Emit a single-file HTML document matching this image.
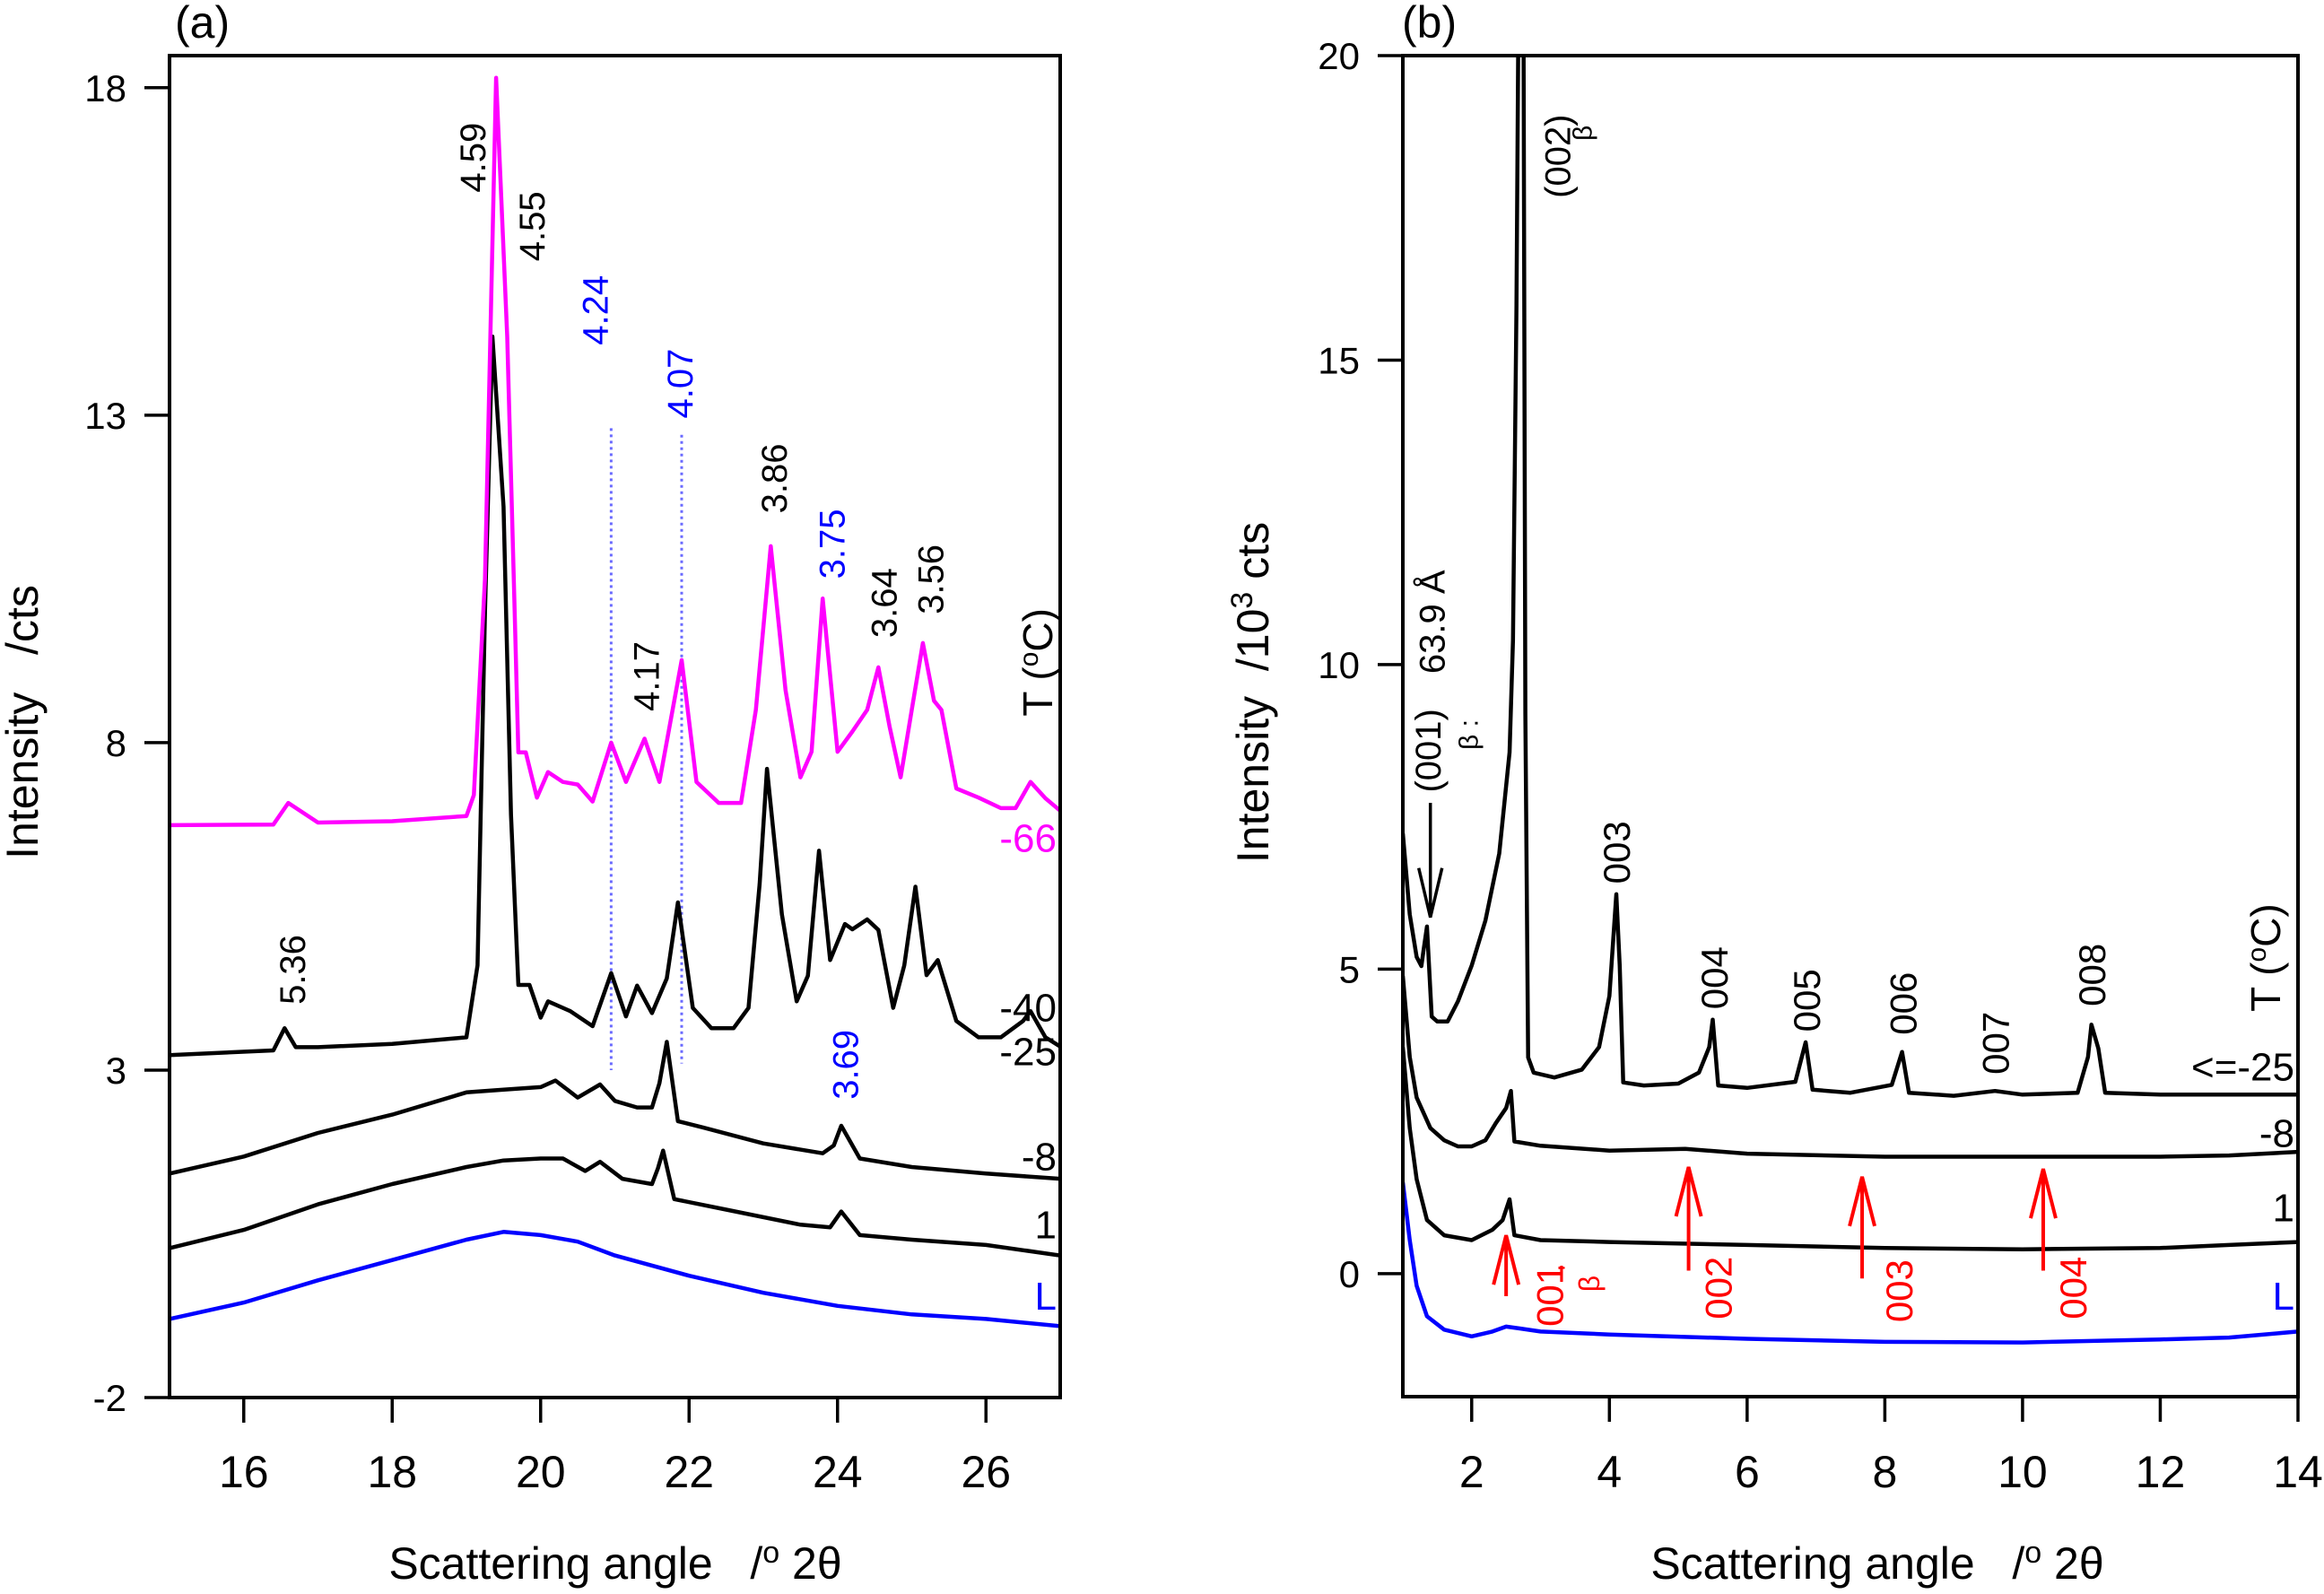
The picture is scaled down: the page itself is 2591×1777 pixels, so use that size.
<!DOCTYPE html>
<html><head><meta charset="utf-8"><style>
html,body{margin:0;padding:0;background:#fff}
svg{display:block;font-family:"Liberation Sans",Arial,sans-serif}
</style></head><body>
<svg id="fig" width="2591" height="1777" viewBox="0 0 2591 1777" xmlns="http://www.w3.org/2000/svg">
<g id="pa"></g>
<g id="pb"></g>
</svg>
<script>
// ---------- Panel (a) data ----------
const aXTicks = [16,18,20,22,24,26];
const aYTicks = [18,13,8,3,-2];
const aX66 = [15,16.4,16.6,17,18,19,19.1,19.25,19.4,19.55,19.65,19.7,19.8,19.95,20.1,20.3,20.5,20.7,20.95,21.15,21.4,21.6,21.9,22.1,22.4,22.7,22.9,23.1,23.3,23.5,23.65,23.8,24.0,24.2,24.4,24.55,24.7,24.85,25.0,25.15,25.3,25.4,25.6,25.9,26.2,26.4,26.6,26.8,27];
const aY66 = [6.74,6.75,7.08,6.78,6.8,6.88,7.2,10.5,18.15,14.2,10,7.85,7.85,7.16,7.55,7.4,7.36,7.1,8.0,7.4,8.06,7.4,9.26,7.4,7.08,7.08,8.5,11.0,8.8,7.47,7.86,10.2,7.86,8.17,8.5,9.15,8.25,7.47,8.5,9.52,8.64,8.5,7.3,7.16,7.0,7.0,7.4,7.15,6.96];
const aX40 = [15,16.4,16.55,16.7,17,18,19,19.15,19.25,19.35,19.5,19.6,19.7,19.85,20,20.1,20.4,20.7,20.95,21.15,21.3,21.5,21.7,21.85,22.05,22.3,22.6,22.8,22.95,23.05,23.25,23.45,23.6,23.75,23.9,24.1,24.2,24.4,24.55,24.75,24.9,25.05,25.2,25.35,25.6,25.9,26.2,26.5,26.6,26.8,27];
const aY40 = [3.23,3.3,3.64,3.35,3.35,3.4,3.5,4.6,10,14.2,11.6,6.9,4.3,4.3,3.8,4.05,3.9,3.67,4.48,3.82,4.29,3.87,4.4,5.56,3.95,3.64,3.64,3.95,5.84,7.6,5.38,4.05,4.44,6.35,4.68,5.23,5.15,5.3,5.14,3.95,4.6,5.8,4.45,4.68,3.75,3.5,3.5,3.75,3.9,3.5,3.36];
const aX8 = [15,16,17,18,19,19.5,20,20.2,20.5,20.8,21.0,21.3,21.5,21.6,21.7,21.85,22.2,23,23.8,23.95,24.05,24.3,25,26,27];
const aY8 = [1.42,1.68,2.04,2.32,2.66,2.7,2.74,2.84,2.58,2.78,2.53,2.43,2.43,2.8,3.43,2.22,2.12,1.88,1.73,1.85,2.15,1.65,1.52,1.42,1.34];
const aX1 = [15,16,17,18,19,19.5,20,20.3,20.6,20.8,21.1,21.5,21.58,21.65,21.8,22.5,23.5,23.9,24.05,24.3,25,26,27];
const aY1 = [0.28,0.56,0.95,1.26,1.52,1.62,1.65,1.65,1.46,1.6,1.34,1.26,1.5,1.77,1.03,0.87,0.64,0.6,0.84,0.48,0.41,0.33,0.17];
const aXL = [15,16,17,18,19,19.5,20,20.5,21,22,23,24,25,26,27];
const aYL = [-0.8,-0.55,-0.21,0.1,0.41,0.53,0.48,0.38,0.17,-0.14,-0.4,-0.6,-0.73,-0.8,-0.91];
// ---------- Panel (b) data ----------
const bXTicks = [2,4,6,8,10,12,14];
const bYTicks = [0,5,10,15,20];
const bX25 = [1.0,1.1,1.2,1.27,1.3,1.35,1.42,1.5,1.65,1.8,2.0,2.2,2.4,2.55,2.6,2.65,2.71,2.75,2.78,2.82,2.9,3.2,3.6,3.85,4.0,4.1,4.15,4.2,4.5,5.0,5.3,5.45,5.5,5.58,6,6.7,6.85,6.95,7.5,8.1,8.25,8.35,9,9.6,10,10.8,10.95,11.0,11.1,11.2,12,13,14];
const bY25 = [7.23,5.9,5.2,5.05,5.3,5.7,4.22,4.14,4.14,4.47,5.06,5.8,6.9,8.56,10.4,15.9,26,22,9.2,3.55,3.3,3.22,3.35,3.72,4.56,6.23,5.06,3.14,3.09,3.12,3.3,3.72,4.17,3.09,3.05,3.15,3.8,3.02,2.97,3.1,3.64,2.97,2.92,3.0,2.94,2.97,3.56,4.09,3.7,2.97,2.94,2.94,2.94];
const bX8 = [1.0,1.1,1.2,1.4,1.6,1.8,2.0,2.2,2.35,2.5,2.57,2.62,3,4,5.1,6,8,10,12,13,14];
const bY8 = [4.89,3.56,2.89,2.39,2.19,2.09,2.09,2.19,2.47,2.72,3.0,2.17,2.1,2.02,2.05,1.97,1.92,1.92,1.92,1.94,2.0];
const bX1 = [1.0,1.1,1.2,1.35,1.6,2.0,2.3,2.45,2.55,2.62,3,4,6,8,10,12,13,14];
const bY1 = [3.72,2.39,1.55,0.88,0.63,0.55,0.72,0.88,1.22,0.63,0.55,0.52,0.47,0.42,0.4,0.42,0.47,0.52];
const bXL = [1.0,1.1,1.2,1.35,1.6,2.0,2.3,2.5,2.7,3,4,6,8,10,12,13,14];
const bYL = [1.5,0.55,-0.2,-0.7,-0.92,-1.03,-0.95,-0.87,-0.9,-0.95,-1.0,-1.07,-1.12,-1.13,-1.08,-1.05,-0.95];
const bRedArrowX = [2.5,5.15,7.67,10.3];

const NS='http://www.w3.org/2000/svg';
function mk(tag,attrs,parent,txt){const e=document.createElementNS(NS,tag);for(const k in attrs)e.setAttribute(k,attrs[k]);if(txt!==undefined)e.textContent=txt;parent.appendChild(e);return e;}

const A={x0:189,x1:1182,y0:62,y1:1558,xmin:15,xmax:27,ymin:-2,ymax:18.49};
const B={x0:1564,x1:2562,y0:62,y1:1557,xmin:1,xmax:14,ymin:-2.02,ymax:20};
function sx(P,v){return P.x0+(v-P.xmin)/(P.xmax-P.xmin)*(P.x1-P.x0);}
function sy(P,v){return P.y1-(v-P.ymin)/(P.ymax-P.ymin)*(P.y1-P.y0);}

function drawFrame(P,g,xt,yt,name){
  const r=mk('rect',{x:P.x0,y:P.y0,width:P.x1-P.x0,height:P.y1-P.y0,fill:'none',stroke:'#000','stroke-width':4},g);
  
  
  xt.forEach(v=>{const x=sx(P,v);
    const l=mk('line',{x1:x,y1:P.y1,x2:x,y2:P.y1+28,stroke:'#000','stroke-width':3.5},g);
    
    
    const t=mk('text',{x:x,y:1658,'font-size':50,'text-anchor':'middle'},g,String(v));
    
    
  });
  yt.forEach(v=>{const y=sy(P,v);
    const l=mk('line',{x1:P.x0-28,y1:y,x2:P.x0,y2:y,stroke:'#000','stroke-width':3.5},g);
    
    
    const t=mk('text',{x:P.x0-48,y:y+15,'font-size':42,'text-anchor':'end'},g,String(v));
    
    
  });
}
function clip(P,id,g){const d=mk('clipPath',{id:id},g);mk('rect',{x:P.x0,y:P.y0,width:P.x1-P.x0,height:P.y1-P.y0},d);}
function curve(P,g,xs,ys,color,name,cid){
  const pts=xs.map((x,i)=>sx(P,x).toFixed(1)+','+sy(P,ys[i]).toFixed(1)).join(' ');
  const p=mk('polyline',{points:pts,fill:'none',stroke:color,'stroke-width':4.5,'stroke-linejoin':'round','clip-path':'url(#'+cid+')'},g);
  
  
}
function vlabel(P,g,xv,yv,txt,color,fs,name){
  const x=sx(P,xv)+fs*0.36,y=sy(P,yv);
  const t=mk('text',{x:x,y:y,'font-size':fs,fill:color,transform:'rotate(-90 '+x+' '+y+')'},g,txt);
  
  
  return t;
}
function rlabel(P,g,yv,txt,color,name){
  const t=mk('text',{x:P.x1-4,y:sy(P,yv)+15,'font-size':44,fill:color,'text-anchor':'end'},g,txt);
  
  
}

// ---- Panel A ----
const ga=document.getElementById('pa');
clip(A,'ca',ga);
[[20.95,12.8,3.0],[21.9,12.7,3.1]].forEach(d=>{
  const l=mk('line',{x1:sx(A,d[0]),y1:sy(A,d[1]),x2:sx(A,d[0]),y2:sy(A,d[2]),stroke:'#6a6aff','stroke-width':3,'stroke-dasharray':'3,4'},ga);
  
  
});
curve(A,ga,aXL,aYL,'#0000ff','curve-L','ca');
curve(A,ga,aX1,aY1,'#000','curve-1','ca');
curve(A,ga,aX8,aY8,'#000','curve-minus8','ca');
curve(A,ga,aX40,aY40,'#000','curve-minus40','ca');
curve(A,ga,aX66,aY66,'#ff00ff','curve-minus66','ca');
drawFrame(A,ga,aXTicks,aYTicks,'panel-a');
vlabel(A,ga,19.08,16.4,'4.59','#000',40,'peak-label');
vlabel(A,ga,19.88,15.35,'4.55','#000',40,'peak-label');
vlabel(A,ga,20.73,14.07,'4.24','#0000ff',40,'peak-label');
vlabel(A,ga,21.87,12.95,'4.07','#0000ff',40,'peak-label');
vlabel(A,ga,21.42,8.48,'4.17','#000',40,'peak-label');
vlabel(A,ga,23.14,11.5,'3.86','#000',40,'peak-label');
vlabel(A,ga,23.92,10.5,'3.75','#0000ff',40,'peak-label');
vlabel(A,ga,24.62,9.6,'3.64','#000',40,'peak-label');
vlabel(A,ga,25.25,9.96,'3.56','#000',40,'peak-label');
vlabel(A,ga,16.65,4.0,'5.36','#000',40,'peak-label');
vlabel(A,ga,24.1,2.55,'3.69','#0000ff',40,'peak-label');
(function(){const x=1157+16,y=sy(A,8.4);
  const t=mk('text',{x:x,y:y,'font-size':46,transform:'rotate(-90 '+x+' '+y+')'},ga);
  
  
  t.innerHTML='T (<tspan dy="-16" font-size="30">o</tspan><tspan dy="16">C)</tspan>';})();
rlabel(A,ga,6.54,'-66','#ff00ff','temp-label-minus66');
rlabel(A,ga,3.95,'-40','#000','temp-label-minus40');
rlabel(A,ga,3.28,'-25','#000','temp-label-minus25');
rlabel(A,ga,1.68,'-8','#000','temp-label-minus8');
rlabel(A,ga,0.64,'1','#000','temp-label-1');
rlabel(A,ga,-0.45,'L','#0000ff','temp-label-L');
(function(){
 let t=mk('text',{x:195,y:42,'font-size':50},ga,'(a)');
 
 
 t=mk('text',{x:42,y:805,'font-size':50,'text-anchor':'middle',transform:'rotate(-90 42 805)'},ga);
 
 
 t.innerHTML='Intensity &#160;&#160;/cts';
 t=mk('text',{x:686,y:1760,'font-size':50,'text-anchor':'middle'},ga);
 
 
 t.innerHTML='Scattering angle &#160;&#160;/<tspan dy="-18" font-size="34">o</tspan><tspan dy="18"> 2θ</tspan>';
})();

// ---- Panel B ----
const gb=document.getElementById('pb');
clip(B,'cb',gb);
curve(B,gb,bXL,bYL,'#0000ff','curve-L','cb');
curve(B,gb,bX1,bY1,'#000','curve-1','cb');
curve(B,gb,bX8,bY8,'#000','curve-minus8','cb');
curve(B,gb,bX25,bY25,'#000','curve-minus25','cb');
drawFrame(B,gb,bXTicks,bYTicks,'panel-b');
(function(){const x=sx(B,1.4),y1=sy(B,7.73),y2=sy(B,5.85);
 const l=mk('path',{d:'M'+x+' '+y1+' L'+x+' '+y2+' M'+(x-13)+' '+(y2-55)+' L'+x+' '+y2+' L'+(x+13)+' '+(y2-55),fill:'none',stroke:'#000','stroke-width':3.5},gb);
 
 })();
bRedArrowX.forEach((v,i)=>{
 const tops=[0.63,1.75,1.59,1.72],bots=[-0.37,0.05,-0.08,0.05];
 const x=sx(B,v),y1=sy(B,bots[i]),y2=sy(B,tops[i]);
 const l=mk('path',{d:'M'+x+' '+y1+' L'+x+' '+y2+' M'+(x-14)+' '+(y2+55)+' L'+x+' '+y2+' L'+(x+14)+' '+(y2+55),fill:'none',stroke:'#ff0000','stroke-width':4},gb);
 
 
});
vlabel(B,gb,3.24,17.66,'(002)','#000',40,'peak-label-002-beta');
vlabel(B,gb,3.6,18.6,'β','#000',30,'beta-subscript');
vlabel(B,gb,1.36,7.9,'(001)','#000',40,'peak-label-001-beta');
vlabel(B,gb,1.95,8.6,'β :','#000',30,'beta-subscript');
vlabel(B,gb,1.42,9.85,'63.9 Å','#000',40,'d-spacing-label');
vlabel(B,gb,4.1,6.4,'003','#000',42,'peak-label');
vlabel(B,gb,5.52,4.34,'004','#000',42,'peak-label');
vlabel(B,gb,6.86,3.97,'005','#000',42,'peak-label');
vlabel(B,gb,8.26,3.92,'006','#000',42,'peak-label');
vlabel(B,gb,9.6,3.27,'007','#000',42,'peak-label');
vlabel(B,gb,11.0,4.39,'008','#000',42,'peak-label');
vlabel(B,gb,3.13,-0.87,'001','#ff0000',42,'red-peak-label');
vlabel(B,gb,3.7,-0.3,'β','#ff0000',32,'red-beta');
vlabel(B,gb,3.4,0.05,'\'','#ff0000',32,'red-prime');
vlabel(B,gb,5.58,-0.75,'002','#ff0000',42,'red-peak-label');
vlabel(B,gb,8.2,-0.8,'003','#ff0000',42,'red-peak-label');
vlabel(B,gb,10.73,-0.75,'004','#ff0000',42,'red-peak-label');
(function(){const x=sx(B,13.53)+16,y=sy(B,4.3);
  const t=mk('text',{x:x,y:y,'font-size':46,transform:'rotate(-90 '+x+' '+y+')'},gb);
  
  
  t.innerHTML='T (<tspan dy="-16" font-size="30">o</tspan><tspan dy="16">C)</tspan>';})();
rlabel(B,gb,3.39,'<=-25','#000','temp-label-minus25');
rlabel(B,gb,2.3,'-8','#000','temp-label-minus8');
rlabel(B,gb,1.08,'1','#000','temp-label-1');
rlabel(B,gb,-0.37,'L','#0000ff','temp-label-L');
(function(){
 let t=mk('text',{x:1563,y:42,'font-size':50},gb,'(b)');
 
 
 t=mk('text',{x:1414,y:772,'font-size':50,'text-anchor':'middle',transform:'rotate(-90 1414 772)'},gb);
 
 
 t.innerHTML='Intensity &#160;/10<tspan dy="-18" font-size="34">3</tspan><tspan dy="18"> cts</tspan>';
 t=mk('text',{x:2093,y:1760,'font-size':50,'text-anchor':'middle'},gb);
 
 
 t.innerHTML='Scattering angle &#160;&#160;/<tspan dy="-18" font-size="34">o</tspan><tspan dy="18"> 2θ</tspan>';
})();
</script>
</body></html>
